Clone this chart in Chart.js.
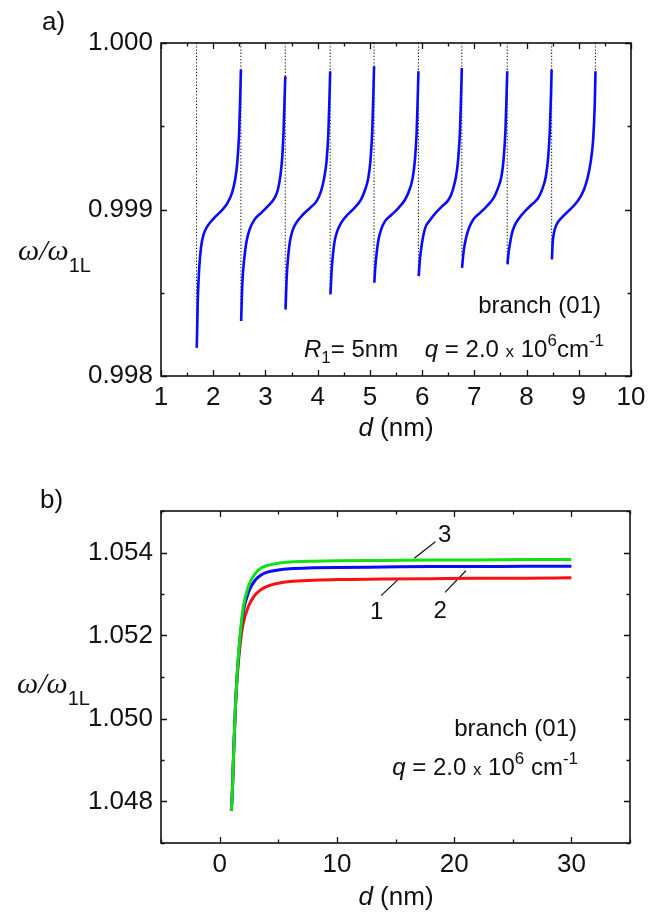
<!DOCTYPE html>
<html lang="en">
<head>
<meta charset="UTF-8">
<title>Branch (01) dispersion</title>
<style>
  body { margin: 0; background: #fff; }
  #wrap { position: relative; width: 657px; height: 912px; }
  .panel { position: absolute; left: 0; width: 657px; height: 456px; }
  #panelA { top: 0; }
  #panelB { top: 456px; }
</style>
<script src="https://cdn.jsdelivr.net/npm/chart.js@4/dist/chart.umd.min.js"></script>
</head>
<body>
<div id="wrap">
  <div class="panel" id="panelA"><canvas id="chartA" width="657" height="456"></canvas></div>
  <div class="panel" id="panelB"><canvas id="chartB" width="657" height="456"></canvas></div>
</div>
<script>
  /* ---------- panel a: branch (01), R1 = 5nm ---------- */
  // dotted asymptotes: position and lower end
  const asymX   = [1.68, 2.53, 3.38, 4.24, 5.08, 5.93, 6.76, 7.63, 8.48, 9.32];
  const asymLow = [0.99817, 0.99833, 0.99840, 0.99849, 0.99856, 0.99860, 0.99872, 0.99868, 0.99870, 0.99983];

  const branch1X = [1.685, 1.705, 1.73, 1.765, 1.815, 1.89, 2.02, 2.15, 2.275, 2.36, 2.42, 2.46, 2.495, 2.515, 2.53];
  const branch1Y = [0.99817, 0.99846, 0.99864, 0.99877, 0.99885, 0.99890, 0.99895, 0.99899, 0.99904, 0.99910, 0.99918, 0.99928, 0.99945, 0.99965, 0.99984];
  const branch2X = [2.535, 2.555, 2.58, 2.60, 2.633, 2.696, 2.792, 2.921, 3.047, 3.176, 3.239, 3.285, 3.323, 3.348, 3.367, 3.38];
  const branch2Y = [0.99833, 0.99854, 0.99866, 0.99872, 0.99880, 0.99888, 0.99894, 0.99898, 0.99902, 0.99907, 0.99912, 0.99920, 0.99932, 0.99948, 0.99967, 0.99980];
  const branch3X = [3.385, 3.405, 3.43, 3.465, 3.515, 3.59, 3.72, 3.855, 3.98, 4.065, 4.125, 4.17, 4.205, 4.225, 4.24];
  const branch3Y = [0.99840, 0.99858, 0.99870, 0.99880, 0.99887, 0.99892, 0.99897, 0.99901, 0.99905, 0.99911, 0.99919, 0.99929, 0.99946, 0.99966, 0.99983];
  const branch4X = [4.245, 4.265, 4.29, 4.325, 4.375, 4.45, 4.575, 4.705, 4.83, 4.91, 4.97, 5.01, 5.045, 5.065, 5.08];
  const branch4Y = [0.99849, 0.99862, 0.99872, 0.99881, 0.99887, 0.99892, 0.99897, 0.99901, 0.99906, 0.99912, 0.99919, 0.99929, 0.99947, 0.99967, 0.99986];
  const branch5X = [5.085, 5.105, 5.13, 5.165, 5.215, 5.29, 5.42, 5.55, 5.675, 5.76, 5.82, 5.86, 5.895, 5.915, 5.93];
  const branch5Y = [0.99856, 0.99866, 0.99874, 0.99882, 0.99888, 0.99893, 0.99897, 0.99901, 0.99906, 0.99912, 0.99919, 0.99929, 0.99946, 0.99966, 0.99983];
  const branch6X = [5.935, 5.955, 5.98, 6.015, 6.06, 6.135, 6.26, 6.385, 6.51, 6.59, 6.65, 6.69, 6.725, 6.745, 6.76];
  const branch6Y = [0.99860, 0.99869, 0.99876, 0.99883, 0.99889, 0.99893, 0.99898, 0.99902, 0.99906, 0.99912, 0.99920, 0.99930, 0.99947, 0.99967, 0.99985];
  const branch7X = [6.765, 6.785, 6.81, 6.85, 6.9, 6.98, 7.11, 7.24, 7.37, 7.455, 7.52, 7.56, 7.595, 7.615, 7.63];
  const branch7Y = [0.99865, 0.99872, 0.99878, 0.99884, 0.99889, 0.99894, 0.99898, 0.99902, 0.99907, 0.99913, 0.99920, 0.99930, 0.99947, 0.99966, 0.99983];
  const branch8X = [7.635, 7.655, 7.68, 7.715, 7.765, 7.84, 7.97, 8.1, 8.225, 8.31, 8.37, 8.41, 8.445, 8.465, 8.48];
  const branch8Y = [0.99867, 0.99874, 0.99879, 0.99885, 0.99890, 0.99894, 0.99899, 0.99903, 0.99907, 0.99913, 0.99920, 0.99930, 0.99947, 0.99966, 0.99984];
  const branch9X = [8.485, 8.5, 8.525, 8.575, 8.67, 8.8, 8.925, 9.02, 9.1, 9.16, 9.225, 9.275, 9.305, 9.32];
  const branch9Y = [0.99870, 0.99880, 0.99886, 0.99891, 0.99895, 0.99899, 0.99903, 0.99907, 0.99912, 0.99918, 0.99928, 0.99942, 0.99962, 0.99983];

  /* ---------- panel b: three curves vs d ---------- */
  const dB = [1.0, 1.1, 1.2, 1.35, 1.5, 1.75, 2.0, 2.5, 3.0, 3.5, 4.0, 5.0, 6.0, 8.0, 10, 14, 18, 22, 26, 30];
  const curve1 = [1.04778, 1.04835, 1.04922, 1.05027, 1.05100, 1.05178, 1.05228, 1.05273, 1.05297, 1.05310, 1.05318, 1.05326, 1.05330, 1.05333, 1.05335, 1.05336, 1.05337, 1.05338, 1.05338, 1.05339];
  const curve2 = [1.04778, 1.04835, 1.04922, 1.05030, 1.05108, 1.05196, 1.05255, 1.05307, 1.05332, 1.05345, 1.05352, 1.05358, 1.05361, 1.05363, 1.05364, 1.05365, 1.05366, 1.05366, 1.05367, 1.05367];
  const curve3 = [1.04778, 1.04835, 1.04922, 1.05030, 1.05110, 1.05200, 1.05265, 1.05322, 1.05348, 1.05362, 1.05368, 1.05374, 1.05377, 1.05379, 1.05380, 1.05381, 1.05382, 1.05382, 1.05383, 1.05383];

  // curve numbers and their leader lines
  const tagText = ['1', '2', '3'];
  const tagX    = [13.4, 18.8, 19.2];
  const tagY    = [1.05255, 1.05257, 1.05442];
  const leadX   = [[13.77, 15.19], [19.22, 21.0], [16.6, 18.4]];
  const leadY   = [[1.05296, 1.05334], [1.05304, 1.05356], [1.05386, 1.05426]];

  const SANS = '"Liberation Sans", Arial, sans-serif';
  const SERIF = '"Liberation Serif", "Times New Roman", serif';

  function pts(xs, ys) { return xs.map((x, i) => ({ x: x, y: ys[i] })); }

  // draws a run of text pieces with their own font and vertical shift
  function drawRich(ctx, x, y, parts, align) {
    let w = 0;
    parts.forEach(p => { ctx.font = p.font; w += ctx.measureText(p.text).width; });
    let cx = align === 'right' ? x - w : (align === 'center' ? x - w / 2 : x);
    parts.forEach(p => {
      ctx.font = p.font;
      ctx.fillText(p.text, cx, y + (p.dy || 0));
      cx += ctx.measureText(p.text).width;
    });
  }

  // frame + inward ticks on all four sides
  const axesBox = {
    id: 'axesBox',
    afterDatasetsDraw(chart) {
      const { ctx, chartArea: a, scales } = chart;
      ctx.save();
      ctx.strokeStyle = '#111';
      ctx.lineWidth = 1.3;
      ctx.beginPath();
      scales.x.ticks.forEach(t => {
        const px = Math.round(scales.x.getPixelForValue(t.value)) + 0.5;
        const len = t.label !== '' ? 6 : 3.5;
        ctx.moveTo(px, a.bottom); ctx.lineTo(px, a.bottom - len);
        ctx.moveTo(px, a.top); ctx.lineTo(px, a.top + len);
      });
      scales.y.ticks.forEach(t => {
        const py = Math.round(scales.y.getPixelForValue(t.value)) + 0.5;
        const len = t.label !== '' ? 6 : 3.5;
        ctx.moveTo(a.left, py); ctx.lineTo(a.left + len, py);
        ctx.moveTo(a.right, py); ctx.lineTo(a.right - len, py);
      });
      ctx.stroke();
      ctx.lineWidth = 1.6;
      ctx.strokeRect(a.left, a.top, a.right - a.left, a.bottom - a.top);
      ctx.restore();
    }
  };

  // free text: panel letter, axis titles, notes
  const panelText = {
    id: 'panelText',
    afterDraw(chart, args, opts) {
      const ctx = chart.ctx;
      ctx.save();
      ctx.fillStyle = '#111';
      ctx.textBaseline = 'alphabetic';
      ctx.textAlign = 'left';
      (opts.items || []).forEach(it => drawRich(ctx, it.x, it.y, it.parts, it.align));
      if (opts.tags) {
        const { x, y } = chart.scales;
        ctx.textBaseline = 'middle';
        tagText.forEach((t, i) => {
          drawRich(ctx, x.getPixelForValue(tagX[i]), y.getPixelForValue(tagY[i]), [{ text: t, font: '24px ' + SANS }], 'center');
        });
      }
      ctx.restore();
    }
  };

  function fixedAxis(size, horizontal) {
    return function (scale) {
      if (horizontal) scale.height = size; else scale.width = size;
    };
  }

  const tickFont = { family: SANS, size: 26 };

  function omegaTitle(x, y) {
    return {
      x: x, y: y, align: 'left', parts: [
        { text: 'ω', font: 'italic 30px ' + SERIF },
        { text: '/', font: 'italic 30px ' + SERIF },
        { text: 'ω', font: 'italic 30px ' + SERIF },
        { text: '1L', font: '20px ' + SANS, dy: 12 }
      ]
    };
  }
  function dTitle(x, y) {
    return {
      x: x, y: y, align: 'center', parts: [
        { text: 'd', font: 'italic 26px ' + SANS },
        { text: ' (nm)', font: '26px ' + SANS }
      ]
    };
  }

  /* ---------- chart a ---------- */
  const branchXs = [branch1X, branch2X, branch3X, branch4X, branch5X, branch6X, branch7X, branch8X, branch9X];
  const branchYs = [branch1Y, branch2Y, branch3Y, branch4Y, branch5Y, branch6Y, branch7Y, branch8Y, branch9Y];

  const dsA = [];
  branchXs.forEach((bx, i) => {
    dsA.push({
      data: pts(bx, branchYs[i]),
      borderColor: '#0a0aff',
      borderWidth: 2.6,
      pointRadius: 0,
      showLine: true,
      cubicInterpolationMode: 'monotone',
      order: 0
    });
  });
  asymX.forEach((ax, i) => {
    dsA.push({
      data: [{ x: ax, y: 1.000 }, { x: ax, y: asymLow[i] }],
      borderColor: '#222',
      borderWidth: 1.1,
      borderDash: [1.3, 1.9],
      pointRadius: 0,
      showLine: true,
      order: 1
    });
  });

  new Chart(document.getElementById('chartA'), {
    type: 'scatter',
    data: { datasets: dsA },
    options: {
      responsive: false,
      animation: false,
      devicePixelRatio: 1,
      layout: { padding: { left: 0, top: 43, right: 26, bottom: 0 } },
      plugins: {
        legend: { display: false },
        tooltip: { enabled: false },
        panelText: {
          items: [
            { x: 42, y: 30, align: 'left', parts: [{ text: 'a)', font: '26px ' + SANS }] },
            omegaTitle(18, 260),
            dTitle(396, 436),
            { x: 601, y: 313, align: 'right', parts: [{ text: 'branch (01)', font: '24px ' + SANS }] },
            { x: 604, y: 357, align: 'right', parts: [
              { text: 'R', font: 'italic 24px ' + SANS },
              { text: '1', font: '17px ' + SANS, dy: 6 },
              { text: '= 5nm    ', font: '24px ' + SANS },
              { text: 'q', font: 'italic 24px ' + SANS },
              { text: ' = 2.0 ', font: '24px ' + SANS },
              { text: 'x', font: '17px ' + SANS },
              { text: ' 10', font: '24px ' + SANS },
              { text: '6', font: '17px ' + SANS, dy: -11 },
              { text: 'cm', font: '24px ' + SANS },
              { text: '-1', font: '17px ' + SANS, dy: -11 }
            ] }
          ]
        }
      },
      scales: {
        x: {
          type: 'linear', min: 1, max: 10,
          grid: { display: false, drawTicks: false },
          border: { display: false },
          afterFit: fixedAxis(80, true),
          ticks: {
            stepSize: 0.5, autoSkip: false, maxRotation: 0, padding: 6,
            color: '#111', font: tickFont,
            callback: v => Math.abs(v - Math.round(v)) < 1e-9 ? String(Math.round(v)) : ''
          }
        },
        y: {
          type: 'linear', min: 0.998, max: 1.000,
          grid: { display: false, drawTicks: false },
          border: { display: false },
          afterFit: fixedAxis(161, false),
          ticks: {
            stepSize: 0.0005, autoSkip: false, padding: 8,
            color: '#111', font: tickFont,
            callback: v => Math.round(v * 10000) % 10 === 0 ? v.toFixed(3) : ''
          }
        }
      }
    },
    plugins: [axesBox, panelText]
  });

  /* ---------- chart b ---------- */
  const dsB = [
    { data: pts(dB, curve3), borderColor: '#12e012', borderWidth: 3, pointRadius: 0, showLine: true, cubicInterpolationMode: 'monotone', order: 0 },
    { data: pts(dB, curve2), borderColor: '#0a0aff', borderWidth: 3, pointRadius: 0, showLine: true, cubicInterpolationMode: 'monotone', order: 1 },
    { data: pts(dB, curve1), borderColor: '#ff1010', borderWidth: 3, pointRadius: 0, showLine: true, cubicInterpolationMode: 'monotone', order: 2 }
  ];
  leadX.forEach((lx, i) => {
    dsB.push({ data: pts(lx, leadY[i]), borderColor: '#111', borderWidth: 1.2, pointRadius: 0, showLine: true, order: 3 });
  });

  new Chart(document.getElementById('chartB'), {
    type: 'scatter',
    data: { datasets: dsB },
    options: {
      responsive: false,
      animation: false,
      devicePixelRatio: 1,
      layout: { padding: { left: 0, top: 55, right: 27, bottom: 0 } },
      plugins: {
        legend: { display: false },
        tooltip: { enabled: false },
        panelText: {
          tags: true,
          items: [
            { x: 40, y: 52, align: 'left', parts: [{ text: 'b)', font: '26px ' + SANS }] },
            omegaTitle(17, 237),
            dTitle(396, 449),
            { x: 577, y: 280, align: 'right', parts: [{ text: 'branch (01)', font: '24px ' + SANS }] },
            { x: 578, y: 319, align: 'right', parts: [
              { text: 'q', font: 'italic 24px ' + SANS },
              { text: ' = 2.0 ', font: '24px ' + SANS },
              { text: 'x', font: '17px ' + SANS },
              { text: ' 10', font: '24px ' + SANS },
              { text: '6', font: '17px ' + SANS, dy: -11 },
              { text: ' cm', font: '24px ' + SANS },
              { text: '-1', font: '17px ' + SANS, dy: -11 }
            ] }
          ]
        }
      },
      scales: {
        x: {
          type: 'linear', min: -5, max: 35,
          grid: { display: false, drawTicks: false },
          border: { display: false },
          afterFit: fixedAxis(69, true),
          ticks: {
            stepSize: 5, autoSkip: false, maxRotation: 0, padding: 6,
            color: '#111', font: tickFont,
            callback: v => Math.round(v) % 10 === 0 ? String(Math.round(v)) : ''
          }
        },
        y: {
          type: 'linear', min: 1.047, max: 1.055,
          grid: { display: false, drawTicks: false },
          border: { display: false },
          afterFit: fixedAxis(161, false),
          ticks: {
            stepSize: 0.001, autoSkip: false, padding: 8,
            color: '#111', font: tickFont,
            callback: v => Math.round(v * 1000) % 2 === 0 ? v.toFixed(3) : ''
          }
        }
      }
    },
    plugins: [axesBox, panelText]
  });
</script>
</body>
</html>
